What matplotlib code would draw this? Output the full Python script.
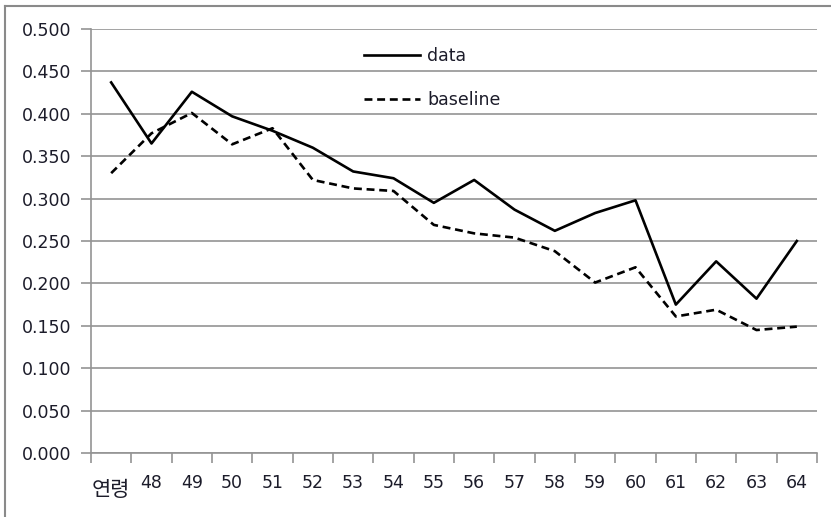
import matplotlib.pyplot as plt
from matplotlib.lines import Line2D
from matplotlib.ticker import FixedLocator, FuncFormatter

# age groups on the x axis (the first slot carries the axis title)
categories = ["연령", "48", "49", "50", "51", "52", "53", "54", "55",
              "56", "57", "58", "59", "60", "61", "62", "63", "64"]
data = [0.437, 0.365, 0.426, 0.397, 0.380, 0.360, 0.332, 0.324, 0.295,
        0.322, 0.287, 0.262, 0.283, 0.298, 0.175, 0.226, 0.182, 0.250]
baseline = [0.330, 0.377, 0.401, 0.364, 0.383, 0.322, 0.312, 0.309, 0.269,
            0.259, 0.254, 0.238, 0.201, 0.219, 0.161, 0.169, 0.145, 0.149]

plt.rcParams['font.family'] = ['DejaVu Sans', 'Noto Sans CJK KR']

fig = plt.figure(figsize=(8.31, 5.17), dpi=100)
ax = fig.add_axes([91 / 831, 64 / 517, (817 - 91) / 831, (453 - 29) / 517])

x = list(range(len(categories)))
ax.plot(x, data, color="black", lw=1.9, label="data")
ax.plot(x, baseline, color="black", lw=1.9, ls=(0, (3, 1.8)), label="baseline")

ax.set_xlim(-0.5, len(categories) - 0.5)
ax.set_ylim(0, 0.5)
ax.set_yticks([i * 0.05 for i in range(11)])
ax.yaxis.set_major_formatter(FuncFormatter(lambda v, p: f"{v:.3f}"))
ax.yaxis.grid(True, color="#949494", lw=1.2)
ax.set_axisbelow(True)

# category labels centred, tick marks on the boundaries
ax.set_xticks(x)
ax.set_xticklabels(categories)
ax.tick_params(axis="x", which="major", length=0, pad=15)
ax.xaxis.set_minor_locator(FixedLocator([i - 0.5 for i in range(len(categories) + 1)]))
ax.tick_params(axis="x", which="minor", length=7, width=1.2, color="#949494")
ax.tick_params(axis="y", length=7, width=1.2, color="#949494", pad=7)
ax.tick_params(labelsize=12.5, labelcolor="#1c1c2a")
first = ax.get_xticklabels()[0]
first.set_fontfamily(['Noto Sans CJK KR', 'DejaVu Sans'])
first.set_fontsize(15)
first.set_y(-0.012)

for side in ["top", "right"]:
    ax.spines[side].set_visible(False)
for side in ["left", "bottom"]:
    ax.spines[side].set_color("#949494")
    ax.spines[side].set_linewidth(1.2)

leg = ax.legend(loc="upper left", bbox_to_anchor=(0.3545, 0.994), frameon=False,
                fontsize=12.5, handlelength=3.2, handletextpad=0.45,
                labelspacing=1.5)
for t in leg.get_texts():
    t.set_color("#1c1c2a")

# chart area border
fig.add_artist(Line2D([5 / 831, 1], [1 - 6 / 517, 1 - 6 / 517],
                      color="#8a8a8a", lw=1.5, transform=fig.transFigure))
fig.add_artist(Line2D([5 / 831, 5 / 831], [0, 1 - 6 / 517],
                      color="#8a8a8a", lw=1.5, transform=fig.transFigure))

fig.savefig("out.png", dpi=100)
